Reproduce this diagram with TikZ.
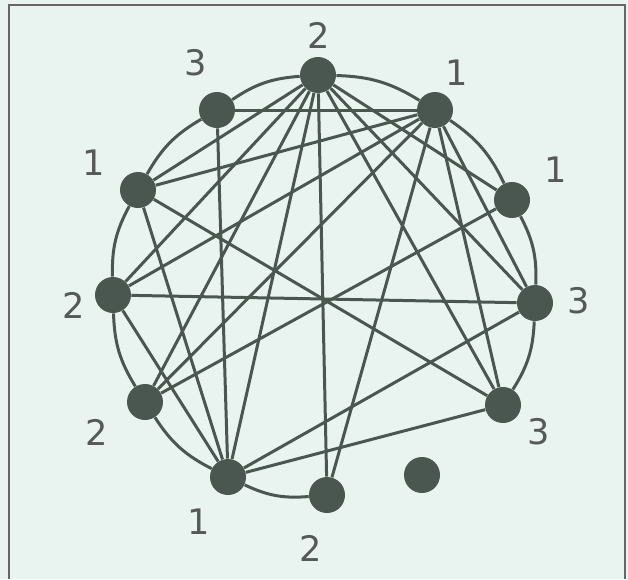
\documentclass[tikz,border=0pt]{standalone}
\usepackage{fontspec}
\setmainfont{DejaVu Sans}
\definecolor{vfill}{HTML}{4A5751}
\definecolor{bgmint}{HTML}{E9F4F0}
\definecolor{lblgray}{HTML}{555A58}
\tikzset{
  vtx/.style={circle, fill=vfill, inner sep=0pt, minimum size=0.72cm},
  lbl/.style={text=lblgray, font=\fontsize{20}{24}\selectfont, inner sep=0pt},
  edge/.style={draw=vfill, line width=0.06cm},
}
\begin{document}
\begin{tikzpicture}[x=0.02cm, y=-0.02cm]
% page and frame
\fill[bgmint] (0,0) rectangle (628,579);
\useasboundingbox (0,0) rectangle (628,579);
\draw[gray!80!black, line width=0.04cm] (9,579) -- (9,5) -- (625,5) -- (625,579);
% vertices
\node[vtx] (A) at (318,75) {};
\node[vtx] (B) at (435,110) {};
\node[vtx] (C) at (217,110) {};
\node[vtx] (D) at (138,190) {};
\node[vtx] (E) at (512,200) {};
\node[vtx] (F) at (113,295) {};
\node[vtx] (G) at (535,303) {};
\node[vtx] (H) at (145,402) {};
\node[vtx] (I) at (503,405) {};
\node[vtx] (J) at (228,477) {};
\node[vtx] (K) at (327,495) {};
\node[vtx] (L) at (422,475) {};
% labels
\node[lbl] (lA) at (319,35) {2};
\node[lbl] (lB) at (457,73) {1};
\node[lbl] (lC) at (196,63) {3};
\node[lbl] (lD) at (94,163) {1};
\node[lbl] (lE) at (556,170) {1};
\node[lbl] (lF) at (74,305) {2};
\node[lbl] (lG) at (579,301) {3};
\node[lbl] (lH) at (97,432) {2};
\node[lbl] (lI) at (539,432) {3};
\node[lbl] (lJ) at (199,522) {1};
\node[lbl] (lK) at (311,548) {2};
% outer arcs
\foreach \u/\v in {A/B, B/E, E/G, G/I, K/J, J/H, H/F, F/D, D/C, C/A}
  \draw[edge] (\u) to[bend left=15] (\v);
% chords
\foreach \u/\v in {A/D, A/F, A/H, A/J, A/K, A/I, A/G, A/E,
                   B/C, B/D, B/F, B/H, B/K, B/G, B/I,
                   C/J, D/I, D/J, E/H, F/G, F/J, G/J, I/J}
  \draw[edge] (\u) -- (\v);
\end{tikzpicture}
\end{document}
